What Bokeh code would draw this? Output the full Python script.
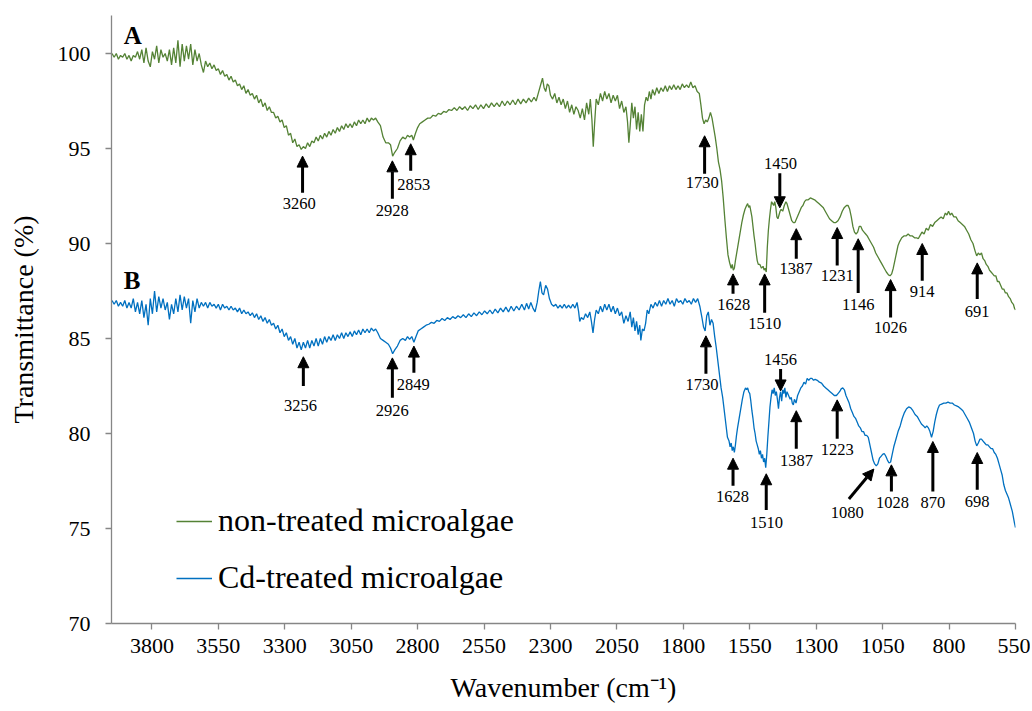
from bokeh.plotting import figure
from bokeh.models import (Range1d, FixedTicker, Legend, LegendItem, Arrow,
                          NormalHead, ColumnDataSource)
from bokeh.core.properties import value
from bokeh.embed import file_html
from bokeh.resources import INLINE

# ---------------- data (wavenumber cm-1, transmittance %) ----------------
spec_a = [
(3950,100.0),(3942,99.8),(3934,100.0),(3926,99.7),(3918,99.9),(3910,99.8),(3902,100.0),(3894,99.7),
(3886,99.9),(3878,99.6),(3870,99.9),(3862,99.8),(3854,100.1),(3846,99.7),(3838,100.2),(3830,99.5),
(3822,100.3),(3814,99.6),(3806,99.3),(3798,100.1),(3790,99.7),(3782,100.4),(3774,99.5),(3766,100.2),
(3758,99.8),(3750,100.0),(3742,99.6),(3734,100.2),(3726,99.4),(3718,100.3),(3710,99.5),(3702,100.7),
(3694,99.3),(3686,100.5),(3678,99.6),(3670,100.4),(3662,99.7),(3654,100.5),(3646,99.4),(3638,100.2),
(3630,99.6),(3622,100.0),(3614,99.4),(3606,99.0),(3598,99.6),(3590,99.3),(3582,99.5),(3574,99.2),
(3566,99.4),(3558,99.1),(3550,99.2),(3542,98.9),(3534,99.1),(3526,98.8),(3518,98.9),(3510,98.6),
(3502,98.8),(3494,98.5),(3486,98.6),(3478,98.3),(3470,98.4),(3462,98.1),(3454,98.3),(3446,97.9),
(3438,98.1),(3430,97.8),(3422,97.9),(3414,97.6),(3406,97.8),(3398,97.4),(3390,97.6),(3382,97.2),
(3374,97.4),(3366,97.0),(3358,97.2),(3350,96.9),(3342,96.9),(3334,96.6),(3326,96.7),(3318,96.4),
(3310,96.5),(3302,96.1),(3294,96.2),(3286,95.7),(3278,95.8),(3270,95.3),(3262,95.5),(3254,95.1),
(3246,95.2),(3238,94.95),(3230,95.1),(3222,95.0),(3214,95.3),(3206,95.1),(3198,95.4),(3190,95.3),
(3182,95.6),(3174,95.4),(3166,95.7),(3158,95.5),(3150,95.8),(3142,95.6),(3134,95.9),(3126,95.7),
(3118,96.0),(3110,95.8),(3102,96.1),(3094,95.9),(3086,96.2),(3078,96.0),(3070,96.3),(3062,96.1),
(3054,96.3),(3046,96.1),(3038,96.4),(3030,96.2),(3022,96.5),(3014,96.3),(3006,96.5),(2998,96.3),
(2990,96.6),(2982,96.4),(2974,96.6),(2966,96.5),(2958,96.6),(2950,96.4),(2940,96.2),(2930,95.6),
(2920,95.3),(2910,95.3),(2902,95.2),(2894,94.6),(2886,94.8),(2876,95.0),(2866,95.4),(2856,95.6),
(2846,95.5),(2838,95.7),(2830,95.6),(2822,95.7),(2816,95.45),(2808,95.8),(2800,96.1),(2792,96.3),
(2782,96.4),(2772,96.5),(2762,96.6),(2752,96.6),(2742,96.75),(2732,96.7),(2722,96.85),(2712,96.8),
(2702,96.95),(2692,96.9),(2682,97.05),(2672,97.0),(2662,97.15),(2652,97.0),(2642,97.2),(2632,97.05),
(2622,97.2),(2612,97.0),(2602,97.25),(2592,97.1),(2582,97.3),(2572,97.05),(2562,97.3),(2552,97.1),
(2542,97.35),(2532,97.15),(2522,97.4),(2512,97.2),(2502,97.4),(2492,97.2),(2482,97.5),(2472,97.25),
(2462,97.5),(2452,97.3),(2442,97.55),(2432,97.3),(2422,97.6),(2412,97.35),(2402,97.6),(2392,97.4),
(2382,97.65),(2372,97.45),(2362,97.7),(2354,97.5),(2346,97.9),(2338,98.3),(2330,98.7),(2324,98.2),
(2318,98.0),(2312,98.4),(2306,98.3),(2300,97.8),(2292,97.6),(2284,97.9),(2276,97.4),(2268,97.7),
(2260,97.3),(2252,97.6),(2244,97.1),(2236,97.5),(2228,96.9),(2220,97.3),(2212,96.8),(2204,97.2),
(2196,97.0),(2188,96.6),(2180,97.1),(2172,96.5),(2164,97.4),(2156,96.8),(2150,97.6),(2144,96.5),
(2139,95.1),(2134,96.3),(2128,97.6),(2120,97.3),(2112,97.9),(2104,97.5),(2096,98.0),(2088,97.6),
(2080,97.9),(2072,97.4),(2064,97.8),(2056,97.5),(2048,97.8),(2040,97.1),(2032,97.5),(2024,96.9),
(2016,97.2),(2010,96.4),(2005,95.3),(2000,96.2),(1994,97.4),(1988,96.6),(1982,97.2),(1976,96.0),
(1970,96.9),(1964,95.9),(1958,96.8),(1952,95.9),(1946,97.3),(1940,97.7),(1934,97.5),(1928,98.0),
(1922,97.6),(1916,98.1),(1908,97.8),(1900,98.2),(1892,97.9),(1884,98.2),(1876,98.0),(1868,98.3),
(1860,98.0),(1852,98.3),(1844,98.1),(1836,98.35),(1828,98.1),(1820,98.3),(1812,98.1),(1804,98.4),
(1796,98.2),(1788,98.35),(1780,98.2),(1772,98.5),(1764,98.2),(1756,98.3),(1748,98.0),(1740,97.9),
(1734,97.3),(1728,96.6),(1722,96.3),(1716,96.5),(1710,96.4),(1704,96.6),(1698,96.9),(1692,96.6),
(1686,96.1),(1680,95.6),(1674,95.0),(1668,94.3),(1662,93.9),(1656,93.3),(1650,92.4),(1644,91.3),
(1638,90.3),(1632,89.4),(1626,89.0),(1620,88.7),(1616,88.9),(1612,88.6),(1608,88.7),(1604,89.1),
(1598,89.6),(1592,90.1),(1586,90.6),(1580,91.1),(1574,91.5),(1568,91.8),(1562,92.0),(1558,92.1),
(1554,91.9),(1550,92.0),(1546,91.7),(1542,91.4),(1538,90.9),(1534,90.4),(1530,90.0),(1526,89.5),
(1522,89.1),(1518,88.9),(1512,88.9),(1506,88.7),(1500,88.8),(1496,88.6),(1492,88.7),(1488,88.5),
(1484,89.8),(1480,90.7),(1476,91.3),(1472,91.8),(1468,92.2),(1464,92.1),(1460,92.0),(1456,92.2),
(1452,91.9),(1448,91.4),(1444,91.3),(1440,91.5),(1436,91.7),(1432,91.8),(1426,91.7),(1420,92.0),
(1414,92.2),(1410,92.1),(1404,91.8),(1398,91.5),(1392,91.2),(1386,91.1),(1380,91.1),(1374,91.3),
(1368,91.5),(1362,91.7),(1356,91.9),(1350,92.0),(1344,92.2),(1338,92.3),(1330,92.3),(1322,92.4),
(1314,92.35),(1306,92.3),(1298,92.2),(1290,92.1),(1282,92.0),(1274,91.9),(1266,91.7),(1258,91.5),
(1250,91.3),(1242,91.2),(1234,91.1),(1226,91.1),(1218,91.2),(1210,91.4),(1202,91.7),(1194,91.9),
(1186,92.0),(1180,92.0),(1174,91.8),(1168,91.4),(1162,90.9),(1156,90.6),(1150,90.5),(1144,90.6),
(1138,90.9),(1132,90.9),(1126,90.7),(1120,90.6),(1114,90.5),(1108,90.4),(1100,90.2),(1092,90.0),
(1084,89.8),(1076,89.5),(1068,89.3),(1060,89.1),(1052,88.9),(1044,88.7),(1036,88.5),(1028,88.35),
(1022,88.3),(1016,88.4),(1010,88.7),(1004,89.1),(998,89.5),(992,89.9),(986,90.1),(978,90.3),
(970,90.4),(962,90.4),(954,90.5),(946,90.4),(938,90.4),(930,90.3),(922,90.3),(916,90.25),
(910,90.4),(902,90.6),(894,90.5),(886,90.8),(878,90.7),(870,91.0),(862,90.9),(854,91.1),
(846,91.2),(838,91.3),(830,91.4),(822,91.3),(814,91.6),(808,91.5),(802,91.7),(796,91.5),
(790,91.6),(782,91.4),(774,91.4),(766,91.2),(758,91.1),(750,91.0),(742,90.9),(734,90.7),
(726,90.5),(718,90.2),(710,90.0),(702,89.6),(696,89.35),(690,89.5),(684,89.4),(678,89.5),
(672,89.2),(666,89.1),(660,88.9),(654,88.8),(648,88.6),(642,88.5),(636,88.4),(630,88.3),
(624,88.3),(618,88.0),(612,88.0),(606,87.8),(600,87.6),(594,87.6),(588,87.4),(582,87.4),
(576,87.2),(570,87.1),(564,86.9),(558,86.8),(554,86.6),(550,86.5),
]

spec_b = [
(3950,87.0),(3942,86.8),(3934,87.0),(3926,86.7),(3918,86.9),(3910,86.7),(3902,87.0),(3894,86.6),
(3886,86.9),(3878,86.6),(3870,87.1),(3862,86.4),(3854,86.9),(3846,86.3),(3838,87.0),(3830,86.1),
(3822,86.8),(3814,85.7),(3806,87.1),(3798,86.3),(3790,87.5),(3782,86.4),(3774,87.2),(3766,86.6),
(3758,87.1),(3750,86.5),(3742,86.9),(3734,86.0),(3726,86.8),(3718,86.3),(3710,87.1),(3702,86.4),
(3694,87.3),(3686,86.5),(3678,87.2),(3670,86.6),(3662,87.1),(3654,85.8),(3646,87.0),(3638,86.4),
(3630,87.1),(3622,86.6),(3614,86.9),(3606,86.7),(3598,86.9),(3590,86.6),(3582,86.9),(3574,86.7),
(3566,86.8),(3558,86.6),(3550,86.8),(3542,86.5),(3534,86.8),(3526,86.6),(3518,86.7),(3510,86.5),
(3502,86.7),(3494,86.5),(3486,86.6),(3478,86.4),(3470,86.6),(3462,86.3),(3454,86.5),(3446,86.3),
(3438,86.4),(3430,86.2),(3422,86.35),(3414,86.1),(3406,86.3),(3398,86.0),(3390,86.2),(3382,85.9),
(3374,86.1),(3366,85.8),(3358,86.0),(3350,85.7),(3342,85.8),(3334,85.5),(3326,85.7),(3318,85.3),
(3310,85.5),(3302,85.1),(3294,85.3),(3286,84.9),(3278,85.1),(3270,84.7),(3262,85.0),(3254,84.5),
(3246,84.8),(3238,84.4),(3230,84.8),(3222,84.5),(3214,84.9),(3206,84.5),(3198,84.9),(3190,84.6),
(3182,85.0),(3174,84.6),(3166,85.0),(3158,84.7),(3150,85.1),(3142,84.8),(3134,85.1),(3126,84.9),
(3118,85.2),(3110,84.9),(3102,85.2),(3094,85.0),(3086,85.3),(3078,85.0),(3070,85.3),(3062,85.1),
(3054,85.35),(3046,85.1),(3038,85.4),(3030,85.2),(3022,85.45),(3014,85.2),(3006,85.5),(2998,85.3),
(2990,85.5),(2982,85.3),(2974,85.55),(2966,85.4),(2958,85.5),(2950,85.3),(2940,85.0),(2930,84.9),
(2920,84.8),(2910,84.7),(2902,84.5),(2894,84.2),(2886,84.4),(2876,84.6),(2866,84.9),(2856,85.0),
(2846,84.9),(2838,85.1),(2830,84.95),(2822,85.1),(2814,84.8),(2806,85.1),(2798,85.4),(2788,85.5),
(2778,85.6),(2768,85.7),(2758,85.75),(2748,85.85),(2738,85.8),(2728,85.95),(2718,85.9),(2708,86.05),
(2698,85.95),(2688,86.1),(2678,86.0),(2668,86.15),(2658,86.05),(2648,86.2),(2638,86.1),(2628,86.25),
(2618,86.1),(2608,86.3),(2598,86.15),(2588,86.35),(2578,86.2),(2568,86.4),(2558,86.25),(2548,86.45),
(2538,86.3),(2528,86.5),(2518,86.3),(2508,86.55),(2498,86.35),(2488,86.6),(2478,86.4),(2468,86.65),
(2458,86.4),(2448,86.7),(2438,86.45),(2428,86.7),(2418,86.5),(2408,86.8),(2398,86.5),(2390,86.85),
(2382,86.55),(2374,86.9),(2366,86.6),(2358,86.4),(2350,86.9),(2344,87.5),(2338,88.0),(2332,87.4),
(2326,87.3),(2318,87.8),(2311,87.6),(2304,87.1),(2296,86.8),(2288,86.7),(2280,86.8),(2272,86.6),
(2264,86.75),(2256,86.6),(2248,86.8),(2240,86.6),(2232,86.75),(2224,86.6),(2216,86.8),(2208,86.6),
(2200,86.9),(2194,86.4),(2190,85.9),(2184,86.1),(2176,86.0),(2168,86.3),(2160,86.1),(2152,86.4),
(2146,85.9),(2140,85.3),(2134,86.0),(2128,86.5),(2120,86.3),(2112,86.7),(2104,86.4),(2096,86.8),
(2088,86.5),(2080,86.8),(2072,86.4),(2064,86.7),(2056,86.3),(2048,86.6),(2040,86.2),(2032,86.4),
(2024,85.8),(2016,86.2),(2008,85.9),(2000,86.4),(1994,85.6),(1988,86.1),(1982,85.4),(1976,85.9),
(1970,85.2),(1964,85.7),(1960,84.9),(1954,85.5),(1948,85.4),(1942,85.8),(1936,86.5),(1930,86.3),
(1922,86.8),(1914,86.6),(1906,86.9),(1898,86.7),(1890,87.0),(1882,86.7),(1874,87.0),(1866,86.8),
(1858,87.1),(1850,86.8),(1842,87.0),(1834,86.7),(1826,87.1),(1818,86.9),(1810,87.0),(1802,86.8),
(1794,87.1),(1786,86.9),(1778,87.0),(1770,86.8),(1762,87.1),(1754,86.9),(1746,87.1),(1738,86.7),
(1730,86.1),(1724,85.6),(1718,85.4),(1712,86.2),(1706,86.4),(1700,85.7),(1694,86.0),(1688,85.8),
(1682,85.1),(1676,84.5),(1670,83.8),(1664,83.1),(1658,82.4),(1652,81.9),(1646,81.2),(1640,80.5),
(1634,79.8),(1628,79.6),(1624,79.3),(1620,79.5),(1616,79.1),(1612,79.3),(1608,79.0),(1604,79.4),
(1600,79.9),(1596,80.3),(1590,80.8),(1584,81.3),(1578,81.8),(1572,82.2),(1566,82.4),(1562,82.3),
(1558,82.4),(1554,82.2),(1550,82.1),(1546,81.7),(1542,81.2),(1538,80.8),(1534,80.3),(1530,80.0),
(1526,79.6),(1522,79.4),(1518,79.2),(1514,78.9),(1510,79.1),(1506,78.7),(1502,78.9),(1498,78.5),
(1494,78.7),(1490,78.2),(1486,78.9),(1482,79.8),(1478,80.6),(1474,81.4),(1470,81.9),(1466,82.3),
(1462,82.1),(1458,82.4),(1454,82.0),(1450,82.2),(1446,81.8),(1442,81.3),(1438,81.9),(1434,82.2),
(1430,81.7),(1426,82.3),(1422,82.1),(1418,82.4),(1414,81.9),(1410,82.2),(1404,82.0),(1398,81.8),
(1394,81.9),(1390,81.6),(1386,81.5),(1382,81.8),(1376,81.6),(1370,82.0),(1364,82.2),(1358,82.4),
(1352,82.5),(1346,82.7),(1340,82.6),(1334,82.9),(1328,82.8),(1322,82.9),(1316,82.9),(1310,82.8),
(1304,82.85),(1296,82.8),(1288,82.7),(1280,82.65),(1272,82.5),(1264,82.4),(1256,82.3),(1248,82.2),
(1240,82.1),(1232,82.0),(1224,82.0),(1218,82.1),(1212,82.2),(1206,82.35),(1200,82.4),(1194,82.3),
(1188,82.0),(1182,81.8),(1176,81.6),(1170,81.3),(1164,81.1),(1158,80.9),(1152,80.8),(1146,80.6),
(1140,80.4),(1134,80.3),(1128,80.1),(1122,80.1),(1116,79.9),(1110,79.9),(1104,79.8),(1098,79.4),
(1092,79.0),(1086,78.6),(1080,78.4),(1074,78.3),(1068,78.4),(1062,78.7),(1056,78.8),(1050,78.9),
(1044,78.95),(1038,78.8),(1032,78.6),(1026,78.45),(1020,78.5),(1014,78.9),(1008,79.3),(1000,79.7),
(992,80.1),(984,80.4),(976,80.8),(968,81.1),(960,81.3),(952,81.4),(944,81.35),(936,81.2),
(928,81.0),(920,80.9),(912,80.7),(904,80.5),(896,80.4),(890,80.3),(884,80.4),(878,80.3),
(872,80.1),(866,79.8),(860,80.1),(854,80.6),(848,81.0),(842,81.3),(836,81.5),(828,81.55),
(820,81.6),(812,81.6),(804,81.65),(796,81.6),(788,81.6),(780,81.5),(772,81.45),(764,81.4),
(756,81.3),(748,81.2),(740,81.0),(732,80.8),(724,80.6),(716,80.3),(708,80.0),(702,79.6),
(696,79.35),(690,79.5),(684,79.7),(678,79.7),(672,79.6),(666,79.5),(660,79.4),(654,79.4),
(648,79.3),(642,79.2),(636,79.2),(630,79.0),(624,78.9),(618,78.7),(612,78.4),(606,78.1),
(600,77.8),(594,77.3),(588,77.0),(582,76.8),(576,76.6),(570,76.3),(566,76.1),(562,75.9),
(558,75.6),(554,75.3),(550,75.05),
]

series_names = ["non-treated microalgae", "Cd-treated microalgae"]
x_ticks = [3800, 3550, 3300, 3050, 2800, 2550, 2300, 2050, 1800, 1550, 1300, 1050, 800, 550]
y_ticks = [70, 75, 80, 85, 90, 95, 100]

# peak annotations: arrow tail (x0,y0) -> tip (x1,y1), label at (lx,ly)
peak_labels = ["3260", "2928", "2853", "1730", "1628", "1510", "1450", "1387", "1231", "1146", "1026", "914", "691",
               "3256", "2926", "2849", "1730", "1456", "1628", "1510", "1387", "1223", "1080", "1028", "870", "698"]
arrow_x0 = [3233, 2895, 2826, 1720, 1613, 1494, 1437, 1375, 1221, 1142, 1020, 901, 694,
            3230, 2895, 2814, 1715, 1434, 1613, 1488, 1375, 1221, 1177, 1017, 861, 694]
arrow_y0 = [92.67, 92.35, 93.83, 93.67, 87.35, 86.35, 93.7, 89.2, 88.84, 87.4, 86.1, 88.04, 87.08,
            82.5, 81.88, 83.2, 83.14, 83.4, 77.25, 75.98, 79.2, 79.72, 76.55, 76.95, 76.95, 77.04]
arrow_x1 = [3233, 2895, 2826, 1720, 1613, 1494, 1437, 1375, 1221, 1142, 1020, 901, 694,
            3230, 2895, 2814, 1715, 1434, 1613, 1488, 1375, 1221, 1083, 1017, 861, 694]
arrow_y1 = [94.6, 94.35, 95.25, 95.67, 88.4, 88.4, 91.88, 90.78, 90.84, 90.25, 88.1, 90.0, 88.98,
            84.04, 83.98, 84.6, 85.14, 82.24, 78.7, 77.88, 81.2, 81.77, 78.13, 78.35, 79.58, 79.0]
label_x = [3245, 2895, 2815, 1729, 1610, 1494, 1434, 1376, 1221, 1142, 1020, 901, 694,
           3241, 2895, 2816, 1730, 1434, 1615, 1487, 1374, 1221, 1183, 1013, 861, 694]
label_y = [92.1, 91.76, 93.1, 93.2, 86.8, 85.77, 94.2, 88.7, 88.3, 86.77, 85.57, 87.46, 86.4,
           81.45, 81.23, 82.6, 82.56, 83.9, 76.7, 75.3, 78.56, 79.14, 75.85, 76.35, 76.35, 76.4]

panel_tags = ["A", "B"]
panel_x = [3906, 3906]
panel_y = [100.93, 88.03]

GREEN = "#548235"
BLUE = "#0070C0"
AXIS = "#868686"
FONT = "Liberation Serif"

# ---------------- figure ----------------
p = figure(width=1030, height=710, x_range=Range1d(3952, 550), y_range=Range1d(70, 102),
           output_backend="svg", toolbar_location=None,
           min_border_left=111, min_border_right=15, min_border_top=15, min_border_bottom=87)
p.xgrid.visible = False
p.ygrid.visible = False
p.outline_line_color = None
p.background_fill_color = "white"

for ax in (p.xaxis[0], p.yaxis[0]):
    ax.axis_line_color = AXIS
    ax.axis_line_width = 1.3
    ax.major_tick_line_color = AXIS
    ax.major_tick_line_width = 1.3
    ax.major_tick_in = 0
    ax.major_tick_out = 6
    ax.minor_tick_line_color = None
    ax.major_label_text_font = FONT
    ax.major_label_text_font_size = "22px"
    ax.major_label_text_color = "black"
    ax.axis_label_text_font = FONT
    ax.axis_label_text_font_size = "28px"
    ax.axis_label_text_font_style = "normal"
    ax.axis_label_text_color = "black"

p.xaxis.ticker = FixedTicker(ticks=x_ticks)
p.yaxis.ticker = FixedTicker(ticks=y_ticks)
p.xaxis.axis_label = "Wavenumber (cm\u207b\u00b9)"
p.yaxis.axis_label = "Transmittance (%)"
p.xaxis.major_label_standoff = 9
p.xaxis.axis_label_standoff = 16
p.yaxis.major_label_standoff = 15
p.yaxis.axis_label_standoff = 16

wa = [w for w, t in spec_a]
ta = [t for w, t in spec_a]
wb = [w for w, t in spec_b]
tb = [t for w, t in spec_b]
ra = p.line(wa, ta, line_color=GREEN, line_width=1.3)
rb = p.line(wb, tb, line_color=BLUE, line_width=1.3)

src = ColumnDataSource(dict(x0=arrow_x0, y0=arrow_y0, x1=arrow_x1, y1=arrow_y1))
p.add_layout(Arrow(source=src, x_start="x0", y_start="y0", x_end="x1", y_end="y1",
                   line_color="black", line_width=3,
                   end=NormalHead(size=11, fill_color="black", line_color="black", line_width=1)))

p.text(x=label_x, y=label_y, text=peak_labels, text_font=value(FONT), text_font_size="16.5px",
       text_align="center", text_baseline="middle", text_color="black")

p.text(x=panel_x, y=panel_y, text=panel_tags, text_font=value(FONT), text_font_size="25px",
       text_font_style="bold", text_align="left", text_baseline="alphabetic", text_color="black")

legend = Legend(items=[LegendItem(label=series_names[0], renderers=[ra]),
                       LegendItem(label=series_names[1], renderers=[rb])],
                location=(65, 27), glyph_width=36, glyph_height=20, label_standoff=6,
                spacing=20, padding=0, margin=0, border_line_color=None,
                background_fill_alpha=0, label_text_font=FONT, label_text_font_size="32px",
                label_text_color="black")
p.add_layout(legend)

open("out.html", "w").write(file_html(p, INLINE))
